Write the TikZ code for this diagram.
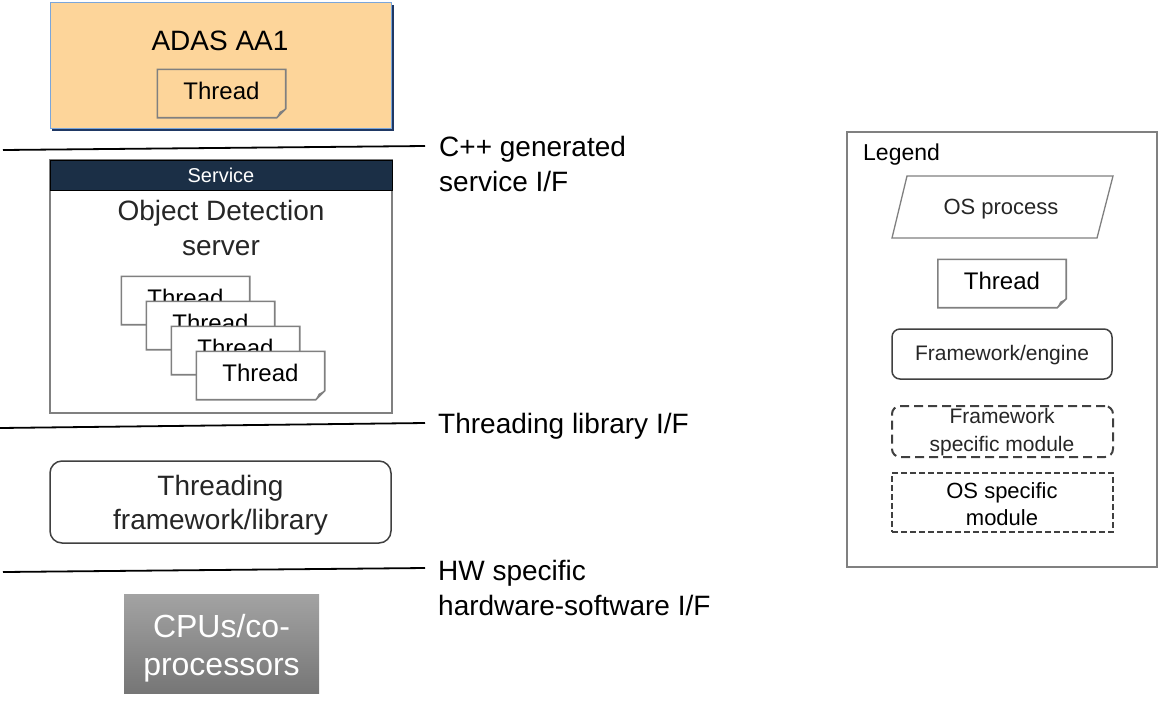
\documentclass[tikz,border=0pt]{standalone}
\usepackage{fontspec}
\setmainfont{Liberation Sans}
\usetikzlibrary{shapes.geometric,calc}
\definecolor{adasfill}{HTML}{FDD59A}
\definecolor{adasedge}{HTML}{7AA6DB}
\definecolor{adasshadow}{HTML}{1F3864}
\definecolor{navy}{HTML}{1B2F46}
\definecolor{boxgray}{HTML}{808080}
\definecolor{darkline}{HTML}{404040}
\definecolor{textdark}{HTML}{262626}
\definecolor{cputop}{HTML}{A3A3A3}
\definecolor{cpubot}{HTML}{767676}
\newcommand\fsz[2]{\fontsize{#1}{#2}\selectfont}
\newcommand\foldbox[1]{%
  \draw[threadline] (#1.north west) -- (#1.north east) -- ([yshift=9pt]#1.south east)
     -- ([xshift=-9pt]#1.south east) -- (#1.south west) -- cycle;
  \fill[boxgray] ([yshift=9pt]#1.south east) -- ([xshift=-9pt]#1.south east)
     -- ([shift={(-6pt,6pt)}]#1.south east) -- cycle;}
\tikzset{
  threadbox/.style={rectangle, minimum width=128pt, minimum height=48pt, inner sep=0pt,
    fill=white, text height=17pt, text depth=6pt, font=\fsz{24}{28}},
  threadline/.style={draw=boxgray, line width=1.6pt},
  iface/.style={draw=black, line width=1.8pt},
  ifacetext/.style={anchor=west, align=left, font=\fsz{28}{35}, inner sep=0pt},
  legtext/.style={font=\fsz{21}{26}, align=center, inner sep=0pt},
}
\begin{document}
\begin{tikzpicture}[x=1pt,y=-1pt]
\useasboundingbox (0,0) rectangle (1159,705);
\fill[white] (0,0) rectangle (1159,705);

% ADAS process
\fill[adasshadow] (52,5) rectangle (394,131);
\node[rectangle, draw=adasedge, line width=1pt, fill=adasfill, minimum width=341pt,
  minimum height=126pt, inner sep=0pt] (adas) at (220.5,65) {};
\node[font=\fsz{28}{34}, inner sep=0pt] (adastitle) at (220,41) {ADAS AA1};
\node[threadbox, fill=adasfill] (adasthread) at (221.5,93.5) {Thread};
\foldbox{adasthread}

% interface line 1
\coordinate (l1a) at (3,150);
\coordinate (l1b) at (425,146);
\draw[iface] (l1a) -- (l1b);
\node[ifacetext] (l1t) at (439,164) {C++ generated\\service I/F};

% service box
\node[rectangle, draw=boxgray, line width=1.6pt, fill=white, minimum width=342pt,
  minimum height=253pt, inner sep=0pt] (svc) at (221,286.5) {};
\node[rectangle, draw=black, line width=1pt, fill=navy, minimum width=342pt, minimum height=30pt,
  inner sep=0pt, text=white, font=\fsz{20}{24}] (svchead) at (221,175) {Service};
\node[font=\fsz{28}{35}, align=center, text=textdark, inner sep=0pt] (svctitle) at (221,228)
  {Object Detection\\server};
\node[threadbox] (t1) at (185.5,300.5) {Thread};
\foldbox{t1}
\node[threadbox] (t2) at (210.5,325.5) {Thread};
\foldbox{t2}
\node[threadbox] (t3) at (235.5,350.5) {Thread};
\foldbox{t3}
\node[threadbox] (t4) at (260.5,375.5) {Thread};
\foldbox{t4}

% interface line 2
\coordinate (l2a) at (0,428);
\coordinate (l2b) at (425,423);
\draw[iface] (l2a) -- (l2b);
\node[ifacetext] (l2t) at (438,426) {Threading library I/F};

% threading framework
\node[rectangle, rounded corners=12pt, draw=darkline, line width=1.5pt, minimum width=341pt,
  minimum height=82pt, inner sep=0pt] (tfw) at (220.5,502) {};
\node[align=center, text=textdark, font=\fsz{28}{34}, inner sep=0pt] (tfwt) at (220.5,505)
  {Threading\\framework/library};

% interface line 3
\coordinate (l3a) at (3,572);
\coordinate (l3b) at (425,568);
\draw[iface] (l3a) -- (l3b);
\node[ifacetext] (l3t) at (438,588) {HW specific\\hardware-software I/F};

% CPUs
\node[rectangle, top color=cputop, bottom color=cpubot, minimum width=195pt, minimum height=99pt,
  inner sep=0pt] (cpu) at (221.5,643.5) {};
\node[align=center, text=white, font=\fsz{32}{38}, inner sep=0pt] (cput) at (221.5,648)
  {CPUs/co-\\processors};

% Legend
\node[rectangle, draw=boxgray, line width=1.6pt, minimum width=310pt, minimum height=435pt,
  inner sep=0pt] (legend) at (1002,349.5) {};
\node[anchor=west, font=\fsz{23}{28}, inner sep=0pt] (legtitle) at (863,155) {Legend};
\draw[draw=boxgray, line width=1.3pt] (907,176) -- (1113,176) -- (1097,238) -- (892,238) -- cycle;
\node[legtext, font=\fsz{22}{26}, text=textdark] (legproc) at (1001,209) {OS process};
\node[threadbox] (legthread) at (1002,283.5) {Thread};
\foldbox{legthread}
\node[rectangle, rounded corners=8pt, draw=darkline, line width=1.5pt, minimum width=220pt,
  minimum height=50pt, inner sep=0pt] (legfw) at (1002,354) {};
\node[legtext, text=textdark] (legfwt) at (1002,355) {Framework/engine};
\node[rectangle, rounded corners=8pt, draw=darkline, line width=2pt, dash pattern=on 9pt off 5pt,
  minimum width=221pt, minimum height=51pt, inner sep=0pt] (legfsm) at (1002.5,431.5) {};
\node[legtext, font=\fsz{21}{28}, text=textdark] (legfsmt) at (1002,432) {Framework\\specific module};
\node[rectangle, draw=darkline, line width=2pt, dash pattern=on 6pt off 3pt,
  minimum width=221pt, minimum height=59pt, inner sep=0pt] (legosm) at (1002.5,502.5) {};
\node[legtext, font=\fsz{22}{27}, text=black] (legosmt) at (1002,504) {OS specific\\module};
\end{tikzpicture}
\end{document}
